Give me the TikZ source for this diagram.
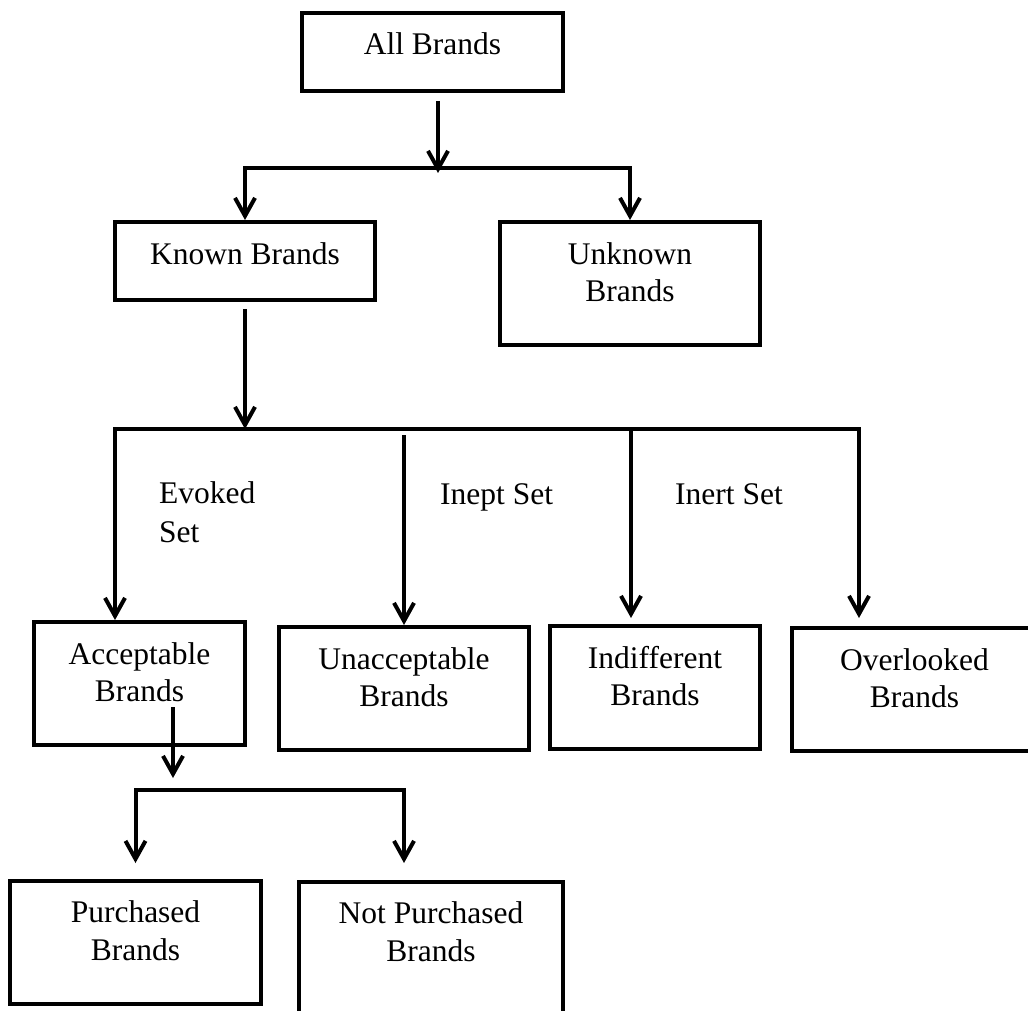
\documentclass[tikz,border=0pt]{standalone}
\usepackage{fontspec}
\setmainfont{Liberation Serif}
\usetikzlibrary{arrows.meta}
\tikzset{
	>={Straight Barb[length=18pt,width=20pt]},
	box/.style={draw, line width=4pt, inner sep=0pt, align=center, anchor=north},
	one/.style={box, text height=42pt, text depth=36pt},
	two/.style={box, text height=79pt, text depth=44pt},
	link/.style={line width=4pt},
}

\begin{document}
\begin{tikzpicture}[x=1pt, y=-1pt, font=\fontsize{31.5}{37}\selectfont]
	\clip (0,0) rectangle (1028,1011);

	\node[one, minimum width=261pt] (all) at (432.5,11) {All Brands};
	\node[one, minimum width=260pt] (known) at (245,220) {Known Brands};
	\node[two, minimum width=260pt] (unknown) at (630,220) {Unknown\\Brands};

	\node[two, minimum width=211pt] (accept) at (139.5,620) {Acceptable\\Brands};
	\node[two, minimum width=250pt] (unaccept) at (404,625) {Unacceptable\\Brands};
	\node[two, minimum width=210pt] (indiff) at (655,624) {Indifferent\\Brands};
	\node[two, minimum width=245pt] (overlook) at (914.5,626) {Overlooked\\Brands};

	\node[two, minimum width=251pt] (purch) at (135.5,879) {Purchased\\[1pt]Brands};
	\node[two, minimum width=264pt, text depth=62pt] (notpurch) at (431,880) {Not Purchased\\[1pt]Brands};

	\node[anchor=base west, align=left, inner sep=0pt] (evoked) at (159,542) {Evoked\\[2pt]Set};
	\node[anchor=base west, inner sep=0pt] (inept) at (440,504) {Inept Set};
	\node[anchor=base west, inner sep=0pt] (inert) at (675,504) {Inert Set};

	\coordinate (top) at (438,168);
	\coordinate (barL) at (115,429);
	\coordinate (barR) at (859,429);
	\coordinate (c3) at (631,429);
	\coordinate (c4) at (173,790);
	\coordinate (c5) at (404,790);

	\draw [link, ->, shorten <=8pt] (all.south -| top) -- ([yshift=-5pt]top);
	\draw [link, <->] (known.north) -- ++(0,-52) -| (unknown.north);

	\draw [link, ->, shorten <=7pt] (known.south) -- (known.south |- barL);
	\draw [link, <->, shorten >=8pt] (barL |- accept.north) -- (barL) -- (barR) -- (barR |- overlook.north);
	\draw [link, ->, shorten <=6pt] (barL -| unaccept.north) -- (unaccept.north);
	\draw [link, ->, shorten >=6pt] (c3) -- (c3 |- indiff.north);

	\draw [link, ->] ([yshift=40pt]accept.south -| c4) -- ([yshift=12pt]c4);
	\draw [link, <->, shorten <=16pt, shorten >=17pt] (purch.north) |- (c5) -- (c5 |- notpurch.north);
\end{tikzpicture}
\end{document}
